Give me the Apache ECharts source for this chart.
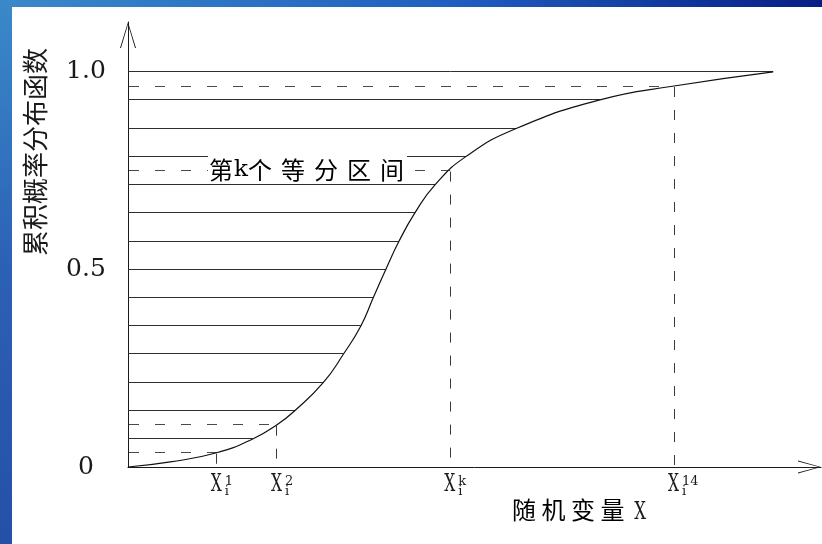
<!DOCTYPE html>
<html>
<head>
<meta charset="utf-8">
<script src="https://cdn.jsdelivr.net/npm/echarts@6/dist/echarts.min.js"></script>
<style>
  html, body { margin: 0; padding: 0; background: #fff; }
  #chart { width: 822px; height: 544px; }
</style>
</head>
<body>
<div id="chart"></div>
<script>
// Boundaries of the 14 equal-probability strata
const levels = [0.071, 0.143, 0.214, 0.286, 0.357, 0.429, 0.5, 0.571, 0.643, 0.714, 0.786, 0.857, 0.929, 1.0];
// x where each stratum boundary meets the CDF
const levelX = [18.0, 24.1, 28.2, 31.1, 33.6, 35.4, 37.2, 39.1, 41.4, 44.3, 48.8, 56.1, 68.1, 93.1];

// Cumulative distribution curve
const curveX = [0, 6.1, 12.8, 18.0, 21.5, 24.1, 28.2, 31.1, 33.6, 35.4, 37.2, 39.1, 41.4, 44.3, 48.8, 56.1, 68.1, 78.8, 93.1];
const curveP = [0, 0.013, 0.036, 0.071, 0.107, 0.143, 0.214, 0.286, 0.357, 0.429, 0.5, 0.571, 0.643, 0.714, 0.786, 0.857, 0.929, 0.964, 1.0];

// Samples taken at the middle of selected strata
const sampleX = [12.8, 21.5, 46.5, 78.8];
const sampleP = [0.036, 0.107, 0.75, 0.964];
const sampleSup = ['1', '2', 'k', '14'];
const sampleSub = ['i', 'i', 'i', 'i'];
const labelledSample = 2;

// Y tick labels
const yTicks = [0, 0.5, 1];
const yTickText = ['0', '0.5', '1.0'];

const yName = '累积概率分布函数';
const xNameChars = ['随', '机', '变', '量'];
const xNameVar = 'X';

const INK = '#1a1a1a';
const CJK = '"Noto Sans CJK SC", sans-serif';
const SERIF = '"DejaVu Serif", serif';

// open "V" arrowhead drawn as a thin filled outline
const arrowX = 'path://M0,23 L6.5,0 L13,23 L12,23 L6.5,2.2 L1,23 Z';
const arrowY = 'path://M0,26 L8,0 L16,26 L15,26 L8,2.4 L1,26 Z';

const chart = echarts.init(document.getElementById('chart'), null, { renderer: 'canvas' });

const crisp = v => Math.round(v - 0.5) + 0.5;

chart.setOption({
  animation: false,
  backgroundColor: '#fff',
  grid: { left: 128, right: 1, top: 22, bottom: 77, outerBoundsMode: 'none' },
  xAxis: {
    type: 'value', min: 0, max: 100,
    axisLine: {
      show: true, onZero: false,
      symbol: ['none', arrowX], symbolSize: [13, 23], symbolOffset: [0, -11.5],
      lineStyle: { color: INK, width: 1 }
    },
    axisTick: { show: false },
    axisLabel: { show: false },
    splitLine: { show: false }
  },
  yAxis: {
    type: 'value', min: 0, max: 1.126,
    axisLine: {
      show: true, onZero: false,
      symbol: ['none', arrowY], symbolSize: [16, 26], symbolOffset: [0, -13],
      lineStyle: { color: INK, width: 1 }
    },
    axisTick: { show: false },
    splitLine: { show: false },
    axisLabel: {
      customValues: yTicks,
      formatter: v => yTickText[yTicks.indexOf(v)],
      fontFamily: SERIF, fontSize: 25, color: INK,
      margin: 42, align: 'center', verticalAlign: 'middle',
      padding: [0, 0, 9, 0]
    }
  },
  graphic: [
    {
      type: 'rect', left: 0, top: 0, silent: true,
      shape: { width: 822, height: 7 },
      style: { fill: new echarts.graphic.LinearGradient(0, 0, 1, 0, [
        { offset: 0, color: '#3a89c9' }, { offset: 0.55, color: '#1f5fc0' }, { offset: 1, color: '#081e86' }
      ]) }
    },
    {
      type: 'rect', left: 0, top: 0, silent: true,
      shape: { width: 12, height: 544 },
      style: { fill: new echarts.graphic.LinearGradient(0, 0, 0, 1, [
        { offset: 0, color: '#3a89c9' }, { offset: 0.5, color: '#2c60b5' }, { offset: 1, color: '#2550a8' }
      ]) }
    },
    {
      type: 'text', x: 35, y: 152, rotation: Math.PI / 2, silent: true,
      style: { text: yName, font: '26px ' + CJK, fill: INK, align: 'center', verticalAlign: 'middle' }
    },
    {
      type: 'text', x: 512, y: 510, silent: true,
      style: {
        text: xNameChars.map(c => '{c|' + c + '}').join(''),
        align: 'left', verticalAlign: 'middle',
        rich: { c: { fontFamily: CJK, fontSize: 24, width: 29.5, color: INK } }
      }
    },
    {
      type: 'text', x: 640, y: 512, scaleX: 0.66, silent: true,
      style: { text: xNameVar, font: '25px ' + SERIF, fill: INK, align: 'center', verticalAlign: 'middle' }
    }
  ],
  series: [
    {
      // stratum boundaries from the axis to the curve
      name: 'strata', type: 'custom', silent: true, z: 2,
      data: levels.map((p, i) => [levelX[i], p]),
      renderItem: (params, api) => {
        const a = api.coord([0, api.value(1)]);
        const b = api.coord([api.value(0), api.value(1)]);
        const y = crisp(a[1]);
        return { type: 'line', shape: { x1: a[0], y1: y, x2: b[0], y2: y },
                 style: { stroke: '#2e2e2e', lineWidth: 1 } };
      }
    },
    {
      // dashed guides: mid-stratum probability -> curve -> sample value
      name: 'samples', type: 'custom', silent: true, z: 2,
      data: sampleX.map((x, i) => [x, sampleP[i]]),
      renderItem: (params, api) => {
        const a = api.coord([0, api.value(1)]);
        const b = api.coord([api.value(0), api.value(1)]);
        const c = api.coord([api.value(0), 0]);
        const y = crisp(a[1]);
        const xv = crisp(b[0]);
        const children = [
          { type: 'line', shape: { x1: a[0] + 1, y1: y, x2: b[0], y2: y },
            style: { stroke: '#4a4a4a', lineWidth: 1, lineDash: [10, 16] } },
          { type: 'line', shape: { x1: xv, y1: b[1] + 1, x2: xv, y2: c[1] },
            style: { stroke: '#3a3a3a', lineWidth: 1, lineDash: [10, 13] } }
        ];
        if (params.dataIndex === labelledSample) {
          children.push({
            type: 'text', z2: 5,
            style: {
              x: a[0] + 80, y: a[1] - 1,
              text: '{a|第}{k|k}{c|个}{c|等}{c|分}{c|区}{e|间}',
              align: 'left', verticalAlign: 'middle',
              backgroundColor: '#fff', padding: [0, 3, 0, 1],
              rich: {
                a: { fontFamily: CJK, fontSize: 24, lineHeight: 28, width: 25, color: INK },
                k: { fontFamily: SERIF, fontSize: 23, lineHeight: 28, width: 14, color: INK },
                c: { fontFamily: CJK, fontSize: 24, lineHeight: 28, width: 33, color: INK },
                e: { fontFamily: CJK, fontSize: 24, lineHeight: 28, color: INK }
              }
            }
          });
        }
        return { type: 'group', children };
      }
    },
    {
      // cumulative distribution function
      name: 'cdf', type: 'line', silent: true, z: 3,
      data: curveX.map((x, i) => [x, curveP[i]]),
      smooth: 0.5,
      symbol: 'none', showSymbol: false,
      lineStyle: { color: '#111', width: 1.2 }
    },
    {
      // sample labels X_i^k under the axis
      name: 'sampleLabels', type: 'custom', silent: true, z: 4,
      data: sampleX.map(x => [x, 0]),
      renderItem: (params, api) => {
        const p = api.coord([api.value(0), 0]);
        const i = params.dataIndex;
        return {
          type: 'group',
          children: [
            { type: 'text', x: p[0] - 0.5, y: p[1] + 17.5, scaleX: 0.62,
              style: { text: 'X', fontFamily: SERIF, fontSize: 25, fill: INK, align: 'center', verticalAlign: 'middle' } },
            { type: 'text', x: p[0] + 8, y: p[1] + 14.5,
              style: { text: sampleSup[i], fontFamily: SERIF, fontSize: 13, fill: INK, align: 'left', verticalAlign: 'middle' } },
            { type: 'text', x: p[0] + 8, y: p[1] + 24.5,
              style: { text: sampleSub[i], fontFamily: SERIF, fontSize: 13, fill: INK, align: 'left', verticalAlign: 'middle' } }
          ]
        };
      }
    }
  ]
});
</script>
</body>
</html>
